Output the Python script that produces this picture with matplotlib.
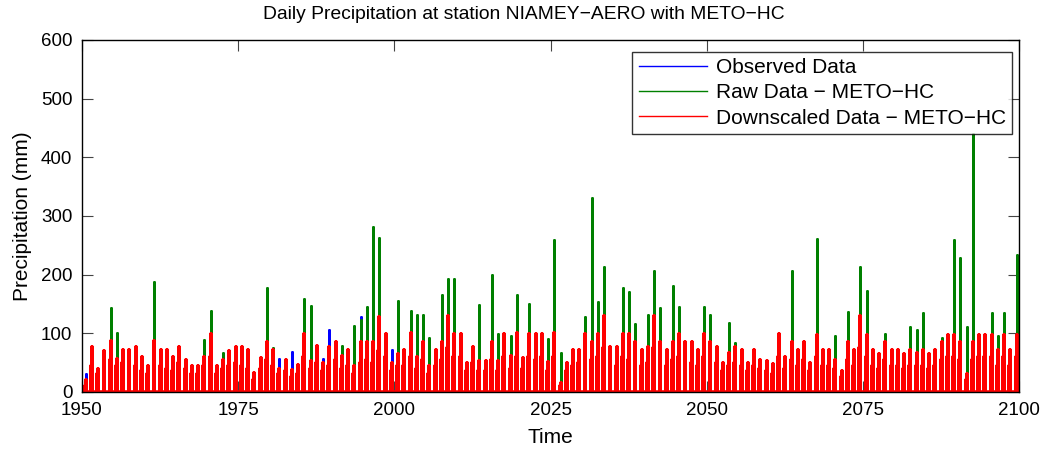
import numpy as np
import matplotlib
matplotlib.use("Agg")
import matplotlib.pyplot as plt

plt.rcParams['font.family'] = ['Liberation Sans', 'DejaVu Sans']

# daily precipitation (mm): the largest spikes of each rainy season
years = np.arange(1950, 2100)
obs_years = np.arange(1950, 2011)

observed = [30, 45, 35, 50, 40, 35, 45, 40, 50, 35,
            40, 45, 35, 40, 30, 45, 35, 30, 35, 40,
            45, 30, 40, 35, 45, 40, 35, 25, 40, 45,
            40, 57, 40, 68, 45, 50, 35, 25, 57, 106,
            50, 40, 45, 35, 128, 50, 60, 70, 49, 72,
            45, 50, 55, 40, 45, 30, 45, 40, 35, 40,
            35]

raw = [15, 20, 15, 20, 143, 100, 20, 25, 20, 30,
       20, 188, 25, 30, 20, 30, 25, 30, 20, 88,
       138, 30, 67, 25, 20, 25, 20, 20, 25, 178,
       75, 30, 25, 20, 30, 158, 146, 30, 25, 35,
       40, 78, 70, 112, 123, 145, 281, 263, 99, 30,
       155, 35, 138, 131, 131, 92, 30, 165, 193, 192,
       40, 30, 35, 148, 30, 200, 99, 40, 96, 166,
       40, 150, 45, 40, 91, 259, 66, 30, 35, 40,
       128, 330, 153, 213, 40, 35, 178, 171, 116, 40,
       131, 206, 143, 35, 180, 145, 40, 35, 40, 145,
       131, 35, 30, 117, 83, 40, 30, 35, 30, 35,
       30, 80, 35, 207, 40, 45, 30, 260, 40, 45,
       95, 30, 137, 40, 213, 172, 40, 35, 98, 40,
       45, 40, 111, 106, 134, 40, 45, 92, 60, 259,
       228, 111, 440, 50, 45, 134, 95, 134, 45, 233]

downscaled = [20, 77, 39, 70, 87, 56, 72, 72, 77, 60,
              45, 87, 72, 72, 60, 77, 55, 45, 45, 60,
              99, 44, 55, 70, 77, 77, 72, 32, 58, 86,
              72, 40, 55, 38, 46, 98, 53, 78, 50, 77,
              85, 61, 72, 45, 85, 85, 85, 128, 99, 50,
              65, 72, 100, 60, 86, 45, 72, 86, 129, 99,
              99, 49, 77, 53, 52, 86, 52, 99, 61, 100,
              58, 98, 98, 98, 51, 100, 15, 49, 72, 72,
              99, 86, 99, 129, 77, 77, 99, 99, 86, 72,
              77, 129, 86, 72, 86, 98, 86, 86, 72, 99,
              86, 77, 49, 67, 77, 72, 49, 72, 55, 52,
              47, 99, 60, 86, 72, 86, 49, 97, 71, 71,
              55, 35, 86, 71, 130, 97, 72, 64, 86, 72,
              71, 64, 72, 67, 72, 64, 72, 86, 97, 97,
              86, 30, 86, 97, 97, 97, 71, 97, 71, 97]

# second-largest downscaled spike of each season
downscaled_2nd = [10, 45, 30, 40, 55, 45, 50, 40, 45, 35,
                  30, 55, 45, 40, 35, 50, 40, 30, 30, 45,
                  60, 30, 40, 45, 50, 45, 40, 20, 40, 55,
                  45, 30, 35, 25, 30, 60, 40, 50, 35, 45,
                  55, 40, 45, 30, 50, 55, 50, 70, 60, 35,
                  45, 45, 60, 40, 55, 30, 45, 55, 75, 60,
                  60, 35, 50, 35, 35, 55, 35, 60, 40, 60,
                  40, 60, 55, 60, 35, 60, 10, 35, 45, 50,
                  60, 55, 60, 75, 50, 45, 60, 55, 55, 45,
                  50, 75, 55, 45, 55, 60, 55, 50, 45, 60,
                  55, 50, 35, 45, 50, 45, 35, 45, 40, 35,
                  30, 60, 40, 55, 45, 55, 35, 60, 45, 45,
                  40, 25, 55, 45, 75, 60, 45, 40, 55, 45,
                  45, 40, 45, 45, 45, 40, 45, 55, 60, 60,
                  55, 20, 55, 60, 60, 60, 45, 60, 45, 60]


def spikes(yrs, series):
    # series: list of (season offset in years, values); zero between spikes
    yrs = np.asarray(yrs)
    pos = np.concatenate([yrs + off for off, _ in series])
    val = np.concatenate([np.asarray(v, float) for _, v in series])
    order = np.argsort(pos)
    pos, val = pos[order], val[order]
    t = np.repeat(pos, 3)
    v = np.zeros(len(t))
    v[1::3] = val
    t = np.concatenate([[yrs[0]], t, [yrs[-1] + 1]])
    v = np.concatenate([[0], v, [0]])
    return t, v


fig = plt.figure(figsize=(10.47, 4.49), dpi=100)
ax = fig.add_axes([0.0783, 0.127, 0.895, 0.784])

t, v = spikes(obs_years, [(0.6, observed)])
ax.plot(t, v, color='#0000ff', lw=2.0, label='Observed Data')
t, v = spikes(years, [(0.6, raw)])
ax.plot(t, v, color='#008000', lw=2.0, label='Raw Data \u2212 METO\u2212HC')
t, v = spikes(years, [(0.45, downscaled_2nd), (0.6, downscaled)])
ax.plot(t, v, color='#ff0000', lw=2.6, label='Downscaled Data \u2212 METO\u2212HC')

ax.set_xlim(1950, 2100)
ax.set_ylim(0, 600)
ax.set_xticks(np.arange(1950, 2101, 25))
ax.set_yticks(np.arange(0, 601, 100))
ax.tick_params(direction='in', top=True, right=True, length=8, width=0.8,
               labelsize=13.5, color='#444444', pad=7)
for s in ax.spines.values():
    s.set_linewidth(1.0)

# title is centred on the figure, not on the axes
fig.text(0.5, 0.968, 'Daily Precipitation at station NIAMEY\u2212AERO with METO\u2212HC',
         fontsize=13.9, ha='center', va='center')
ax.set_xlabel('Time', fontsize=15, labelpad=7)
ax.set_ylabel('Precipitation (mm)', fontsize=15, labelpad=6)

leg = ax.legend(loc='upper right', bbox_to_anchor=(0.9925, 0.966), fontsize=15,
                frameon=True, fancybox=False, edgecolor='black',
                handlelength=3.3, handletextpad=0.4, borderpad=0.3,
                labelspacing=0.3, borderaxespad=0)
leg.get_frame().set_linewidth(1.0)
for h in leg.get_lines():
    h.set_linewidth(1.0)

fig.savefig('out.png', dpi=100)
